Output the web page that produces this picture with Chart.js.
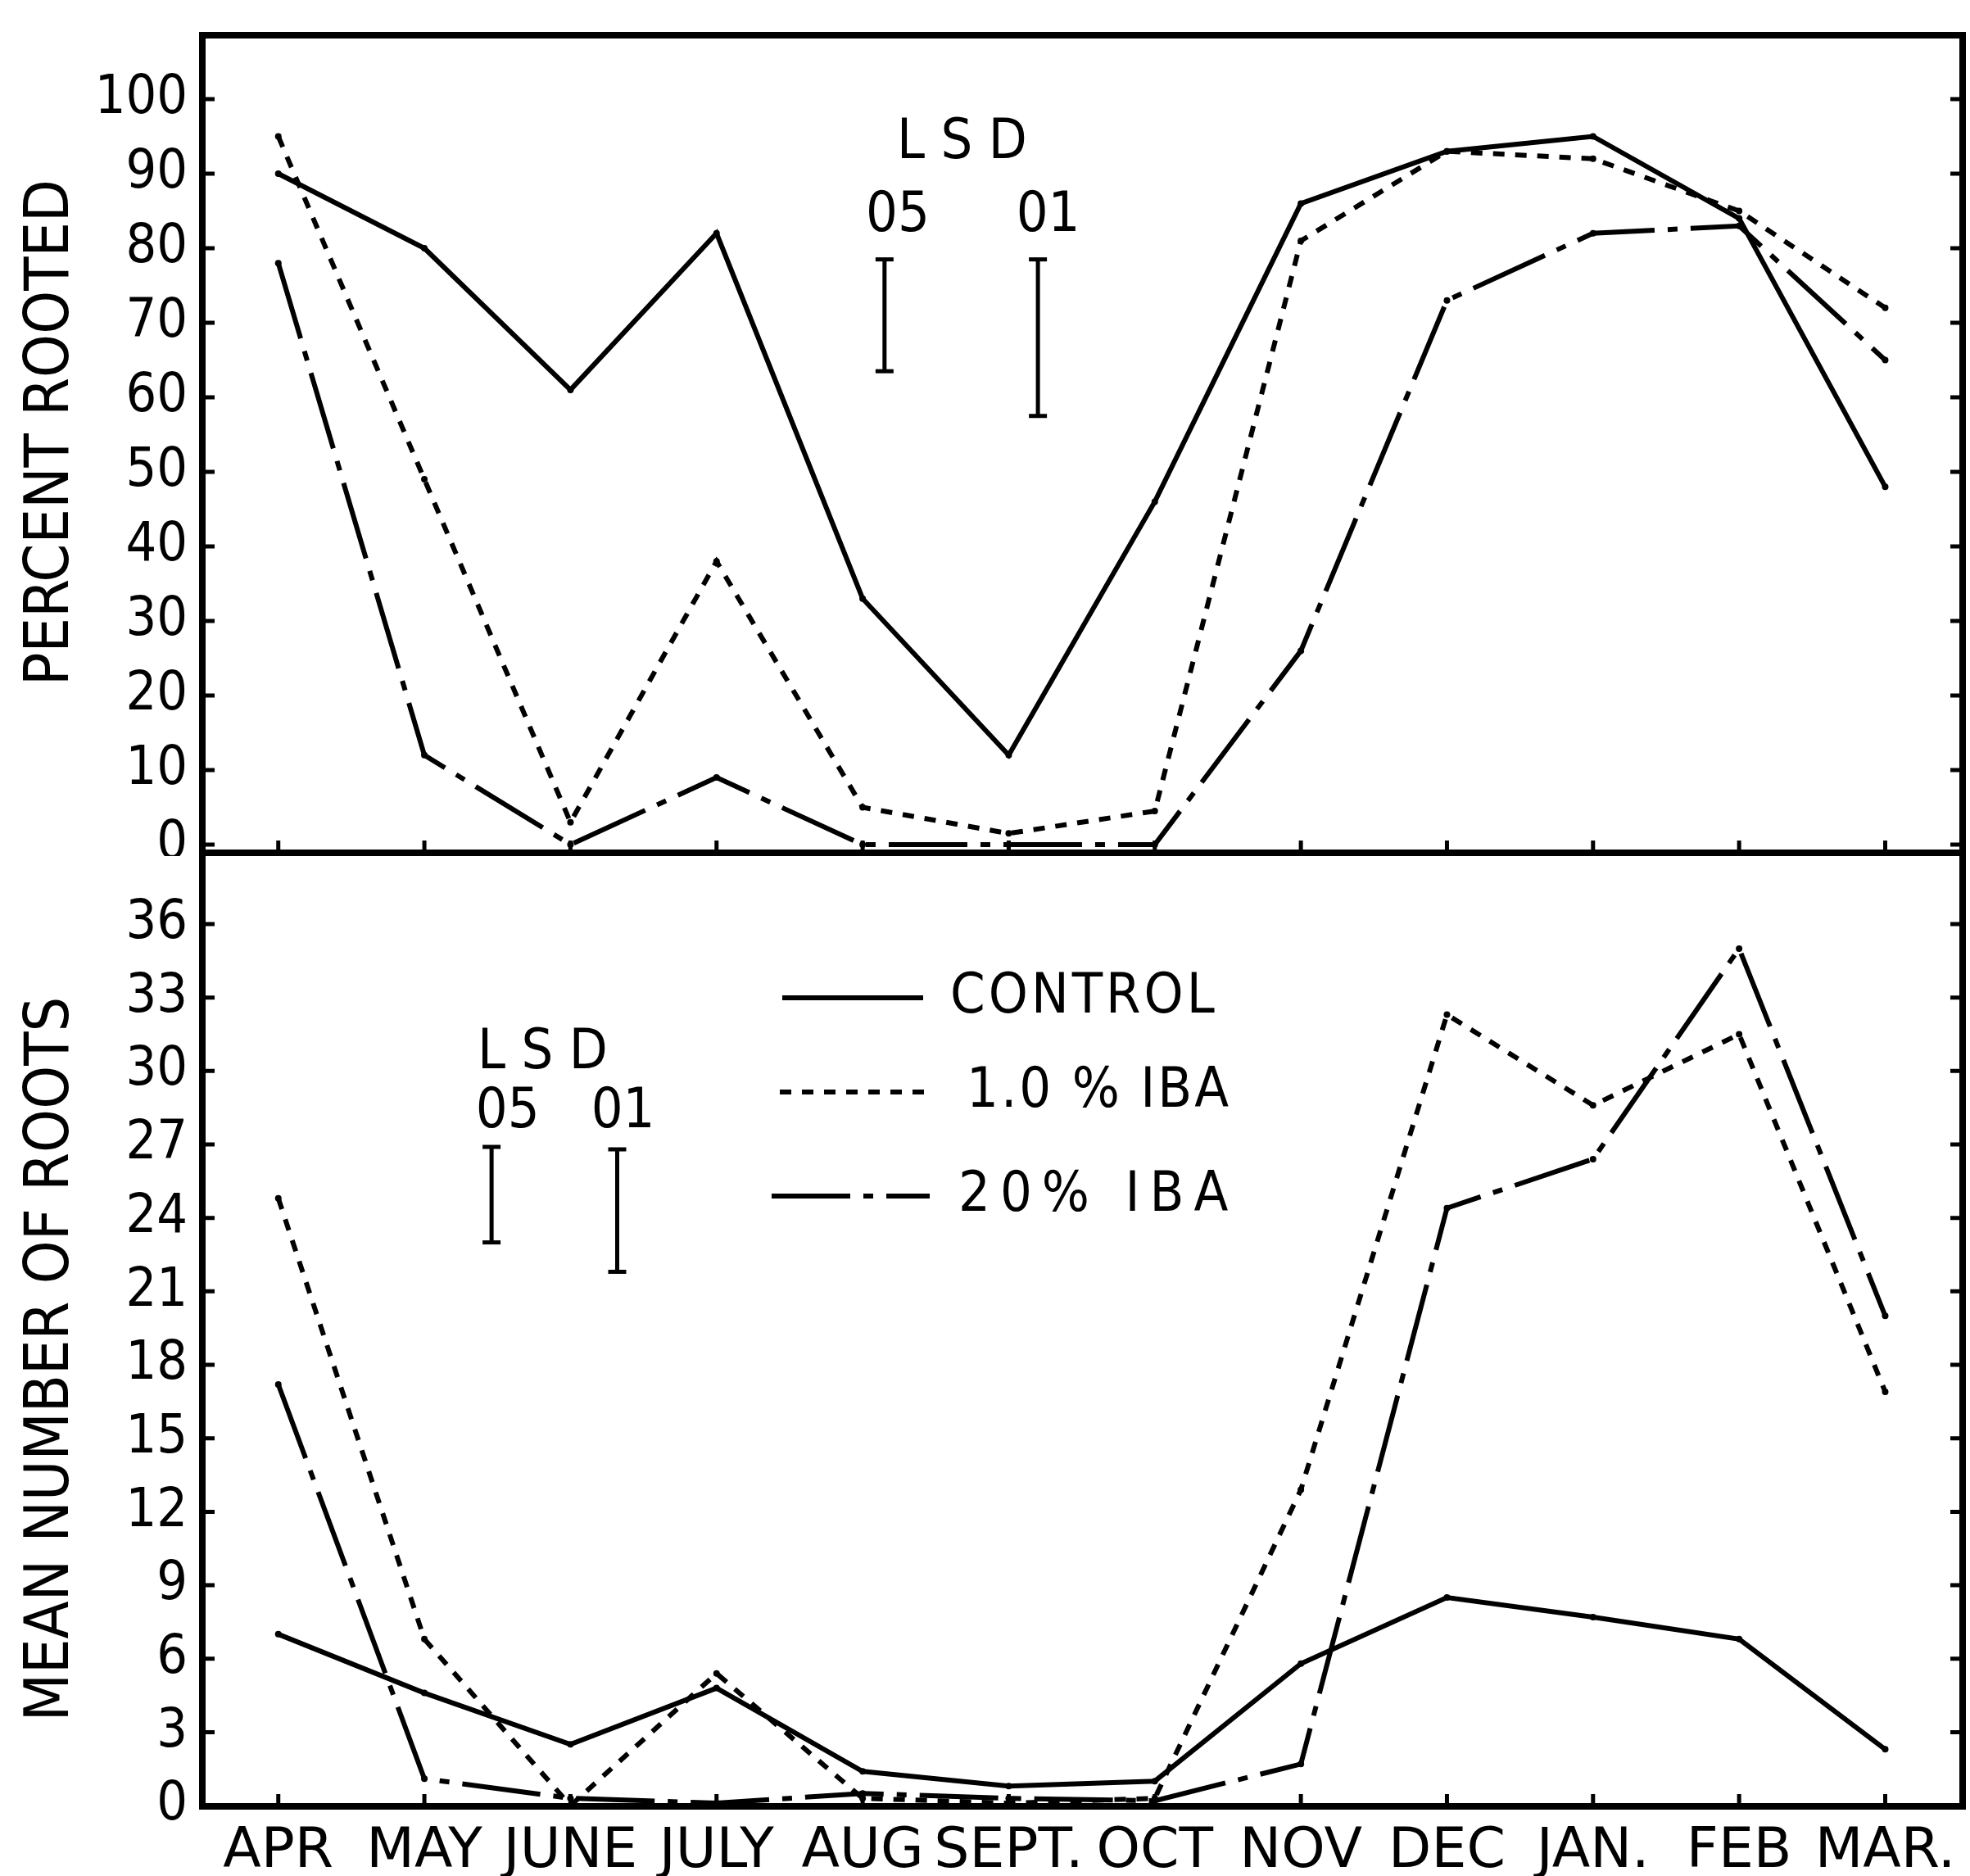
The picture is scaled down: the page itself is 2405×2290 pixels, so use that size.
<!DOCTYPE html>
<html>
<head>
<meta charset="utf-8">
<title>Percent rooted and mean number of roots by month</title>
<script src="https://cdn.jsdelivr.net/npm/chart.js@4.4.1/dist/chart.umd.min.js"></script>
<style>
  html, body { margin: 0; padding: 0; background: #fff; }
  #wrap { position: relative; width: 2405px; height: 2290px; background: #fff; }
  canvas { position: absolute; left: 0; }
  #top-chart { top: 0; }
  #bottom-chart { top: 1000px; }
</style>
</head>
<body>
<div id="wrap">
  <canvas id="top-chart" width="2405" height="1045"></canvas>
  <canvas id="bottom-chart" width="2405" height="1290"></canvas>
</div>
<script>
// Months of the sampling year
const months = ['APR', 'MAY', 'JUNE', 'JULY', 'AUG', 'SEPT.', 'OCT', 'NOV', 'DEC', 'JAN.', 'FEB', 'MAR.'];
const seriesNames = ['CONTROL', '1.0 % IBA', '20% IBA'];

// Percent rooted (top panel)
const rootedControl = [90, 80, 61, 82, 33, 12, 46, 86, 93, 95, 84, 48];
const rootedIba10 = [95, 49, 3, 38, 5, 1.5, 4.5, 81, 93, 92, 85, 72];
const rootedIba20 = [78, 12, 0, 9, 0, 0, 0, 26, 73, 82, 83, 65];

// Mean number of roots (bottom panel)
const rootsControl = [7.0, 4.6, 2.5, 4.8, 1.4, 0.8, 1.0, 5.8, 8.5, 7.7, 6.8, 2.3];
const rootsIba10 = [24.8, 6.8, 0, 5.4, 0.3, 0.1, 0.3, 12.9, 32.3, 28.6, 31.5, 16.9];
const rootsIba20 = [17.2, 1.1, 0.3, 0.1, 0.5, 0.3, 0.2, 1.7, 24.4, 26.4, 35.0, 20.0];

// Tick values
const rootedTicks = [0, 10, 20, 30, 40, 50, 60, 70, 80, 90, 100];
const rootsTicks = [0, 3, 6, 9, 12, 15, 18, 21, 24, 27, 30, 33, 36];

// LSD bars: [x position (month index), upper value, lower value]
const rootedLsd05 = [4.15, 78.5, 63.5];
const rootedLsd01 = [5.2, 78.5, 57.5];
const rootsLsd05 = [1.46, 26.9, 23.0];
const rootsLsd01 = [2.32, 26.8, 21.8];

const FONT = "'DejaVu Sans Condensed', 'DejaVu Sans', sans-serif";
const FONT_WIDE = "'DejaVu Sans', sans-serif";
Chart.defaults.font.family = FONT;
Chart.defaults.font.weight = 'normal';
Chart.defaults.color = '#000';

const lineStyles = [
    { borderDash: [] },
    { borderDash: [14, 13] },
    { borderDash: [96, 16, 12, 16] }
];

function toPoints(values) {
    return values.map((v, i) => ({ x: i, y: v }));
}

function seriesDataset(values, idx) {
    return {
        label: seriesNames[idx],
        data: toPoints(values),
        borderColor: '#000',
        backgroundColor: '#000',
        borderWidth: 6,
        borderDash: lineStyles[idx].borderDash,
        pointRadius: 4,
        pointBorderWidth: 0,
        pointBackgroundColor: '#000',
        tension: 0
    };
}

function lsdDataset(bar) {
    return {
        label: 'LSD',
        data: [{ x: bar[0], y: bar[1] }, { x: bar[0], y: bar[2] }],
        borderColor: '#000',
        borderWidth: 5,
        pointStyle: 'line',
        pointRadius: 11,
        pointBorderWidth: 5,
        pointBorderColor: '#000'
    };
}

// Frame, inward ticks, axis title, LSD labels and the in-plot legend
const panelDecor = {
    id: 'panelDecor',
    afterDraw(chart, args, opts) {
        const { ctx, chartArea: a, scales } = chart;
        ctx.save();
        ctx.strokeStyle = '#000';
        ctx.fillStyle = '#000';
        ctx.setLineDash([]);
        ctx.lineWidth = 8;
        ctx.strokeRect(a.left, a.top, a.right - a.left, a.bottom - a.top);

        ctx.lineWidth = 5;
        const tl = 15;
        scales.y.ticks.forEach(t => {
            const y = scales.y.getPixelForValue(t.value);
            ctx.beginPath();
            ctx.moveTo(a.left, y); ctx.lineTo(a.left + tl, y);
            ctx.moveTo(a.right, y); ctx.lineTo(a.right - tl, y);
            ctx.stroke();
        });
        scales.x.ticks.forEach(t => {
            const x = scales.x.getPixelForValue(t.value);
            ctx.beginPath();
            ctx.moveTo(x, a.bottom); ctx.lineTo(x, a.bottom - tl);
            ctx.stroke();
        });

        // rotated y-axis title
        if (opts.title) {
            ctx.save();
            ctx.translate(opts.title.x, opts.title.y);
            ctx.rotate(-Math.PI / 2);
            ctx.textAlign = 'center';
            ctx.textBaseline = 'middle';
            ctx.font = '75px ' + FONT;
            ctx.fillText(opts.title.text, 0, 0);
            ctx.restore();
        }

        ctx.textAlign = 'center';
        ctx.textBaseline = 'middle';
        ctx.font = '68px ' + FONT;
        (opts.labels || []).forEach(l => {
            ctx.fillText(l.text, scales.x.getPixelForValue(l.x), scales.y.getPixelForValue(l.y));
        });

        if (opts.legend) {
            ctx.lineWidth = 6;
            ctx.textAlign = 'left';
            ctx.font = '68px ' + FONT;
            opts.legend.forEach((item, i) => {
                ctx.setLineDash(lineStyles[i].borderDash);
                ctx.beginPath();
                ctx.moveTo(item.x0, item.y);
                ctx.lineTo(item.x1, item.y);
                ctx.stroke();
                ctx.setLineDash([]);
                ctx.letterSpacing = item.spacing + 'px';
                ctx.fillText(seriesNames[i], item.tx, item.y);
                ctx.letterSpacing = '0px';
            });
        }
        ctx.restore();
    }
};

function yScale(min, max, tickValues) {
    return {
        type: 'linear',
        min: min,
        max: max,
        afterBuildTicks: s => { s.ticks = tickValues.map(v => ({ value: v })); },
        afterFit: s => {
            s.width = 247;
            s.paddingTop = 0;
            s.paddingBottom = 0;
        },
        grid: { display: false, drawTicks: false },
        border: { display: false },
        ticks: { padding: 18, font: { size: 66 }, color: '#000' }
    };
}

function xScale(showLabels) {
    return {
        type: 'linear',
        display: showLabels,
        min: -0.52,
        max: 11.53,
        afterBuildTicks: s => { s.ticks = months.map((m, i) => ({ value: i })); },
        afterFit: s => {
            s.height = showLabels ? 85 : 0;
            s.paddingLeft = 0;
            s.paddingRight = 0;
        },
        grid: { display: false, drawTicks: false },
        border: { display: false },
        ticks: {
            padding: 16,
            maxRotation: 0,
            autoSkip: false,
            font: { family: FONT_WIDE, size: 68 },
            color: '#000',
            callback: v => months[v]
        }
    };
}

const commonOptions = {
    responsive: false,
    animation: false,
    devicePixelRatio: 1
};

new Chart(document.getElementById('top-chart'), {
    type: 'line',
    data: {
        datasets: [
            seriesDataset(rootedControl, 0),
            seriesDataset(rootedIba10, 1),
            seriesDataset(rootedIba20, 2),
            lsdDataset(rootedLsd05),
            lsdDataset(rootedLsd01)
        ]
    },
    options: {
        ...commonOptions,
        layout: { autoPadding: false, padding: { left: 0, top: 43, right: 9, bottom: 4 } },
        scales: {
            x: xScale(false),
            y: yScale(-1.1, 108.57, rootedTicks)
        },
        plugins: {
            legend: { display: false },
            tooltip: { enabled: false },
            panelDecor: {
                title: { text: 'PERCENT ROOTED', x: 64, y: 528 },
                labels: [
                    { text: 'L S D', x: 4.68, y: 94 },
                    { text: '05', x: 4.24, y: 84.3 },
                    { text: '01', x: 5.27, y: 84.3 }
                ]
            }
        }
    },
    plugins: [panelDecor]
});

new Chart(document.getElementById('bottom-chart'), {
    type: 'line',
    data: {
        datasets: [
            seriesDataset(rootsControl, 0),
            seriesDataset(rootsIba10, 1),
            seriesDataset(rootsIba20, 2),
            lsdDataset(rootsLsd05),
            lsdDataset(rootsLsd01)
        ]
    },
    options: {
        ...commonOptions,
        layout: { autoPadding: false, padding: { left: 0, top: 41, right: 9, bottom: 0 } },
        scales: {
            x: xScale(true),
            y: yScale(-0.03, 38.91, rootsTicks)
        },
        plugins: {
            legend: { display: false },
            tooltip: { enabled: false },
            panelDecor: {
                title: { text: 'MEAN NUMBER OF ROOTS', x: 64, y: 659 },
                labels: [
                    { text: 'L S D', x: 1.81, y: 30.7 },
                    { text: '05', x: 1.57, y: 28.3 },
                    { text: '01', x: 2.36, y: 28.3 }
                ],
                legend: [
                    { x0: 955, x1: 1127, tx: 1160, y: 218, spacing: 4 },
                    { x0: 952, x1: 1130, tx: 1180, y: 333, spacing: 3 },
                    { x0: 942, x1: 1135, tx: 1170, y: 460, spacing: 12 }
                ]
            }
        }
    },
    plugins: [panelDecor]
});
</script>
</body>
</html>
